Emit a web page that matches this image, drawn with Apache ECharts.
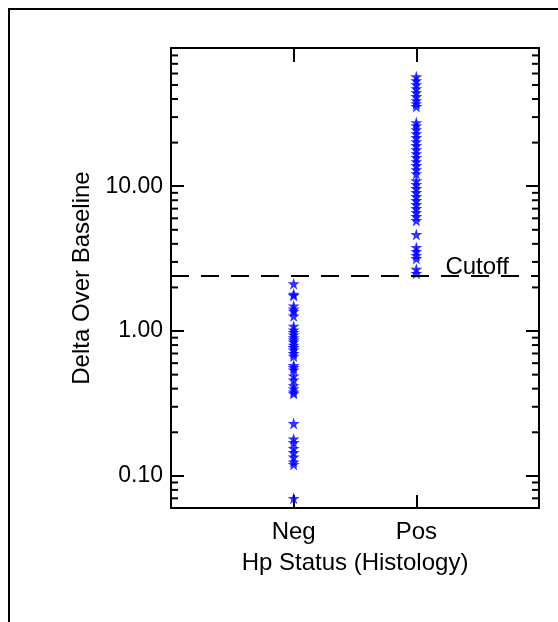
<!DOCTYPE html>
<html>
<head>
<meta charset="utf-8">
<script src="https://cdn.jsdelivr.net/npm/echarts@6/dist/echarts.min.js"></script>
<style>
html,body{margin:0;padding:0;background:#fff;}
#c{width:558px;height:622px;}
</style>
</head>
<body>
<div id="c"></div>
<script>
// ---- data ----
const categories = ['Neg', 'Pos'];
const negValues = [2.12, 1.80, 1.76, 1.49, 1.42, 1.37, 1.27, 1.08, 1.02, 0.98, 0.94, 0.90, 0.87, 0.84,
  0.80, 0.77, 0.74, 0.70, 0.67, 0.58, 0.56, 0.54, 0.49, 0.46, 0.42, 0.40, 0.38, 0.37,
  0.23, 0.18, 0.17, 0.155, 0.145, 0.135, 0.125, 0.12, 0.07];
const posValues = [57, 53.6, 50.3, 47.2, 44.3, 41.6, 39, 37.2, 35.5,
  27.5, 26.2, 24.6, 23.1, 21.7, 20.3, 19.1, 17.9, 16.8, 15.8, 14.8, 13.9, 13.0, 12.2,
  10.9, 10.3, 9.64, 9.05, 8.49, 7.97, 7.48, 7.02, 6.59, 6.18, 5.80,
  4.64, 3.78, 3.55, 3.33, 3.17, 2.67, 2.50];
const cutoffValue = 2.4;
const cutoffLabel = 'Cutoff';
const yMin = 0.06;
const yMax = 90;
const minorTickValues = [0.07, 0.08, 0.09, 0.2, 0.3, 0.4, 0.5, 0.6, 0.7, 0.8, 0.9,
  2, 3, 4, 5, 6, 7, 8, 9, 20, 30, 40, 50, 60, 70, 80];
const xAxisName = 'Hp Status (Histology)';
const yAxisName = 'Delta Over Baseline';

// axis categories padded with empty slots at both ends
const axisCategories = [''].concat(categories, ['']);

const FONT = 'Liberation Sans, Arial, Helvetica, sans-serif';
const lineStyleBlack = { color: '#000', width: 2 };
const starPath = 'path://M0,-1 L0.2245,-0.309 L0.951,-0.309 L0.363,0.118 L0.588,0.809 L0,0.382 L-0.588,0.809 L-0.363,0.118 L-0.951,-0.309 L-0.2245,-0.309 Z';

const chart = echarts.init(document.getElementById('c'), null, { renderer: 'canvas' });

const option = {
  animation: false,
  backgroundColor: '#fff',
  textStyle: { fontFamily: FONT },
  graphic: [{
    type: 'rect', silent: true, z: 0,
    shape: { x: 9, y: 9, width: 700, height: 700 },
    style: { fill: 'none', stroke: '#000', lineWidth: 2 }
  }],
  grid: { left: 171, right: 19, top: 48, bottom: 114, containLabel: false },
  xAxis: [{
    type: 'category', data: axisCategories, boundaryGap: false, position: 'bottom',
    axisLine: { show: true, lineStyle: lineStyleBlack },
    axisTick: { show: true, inside: true, length: 13, interval: 0, lineStyle: lineStyleBlack },
    axisLabel: { show: true, interval: 0, margin: 12, color: '#000', fontSize: 24, fontFamily: FONT },
    splitLine: { show: false },
    name: xAxisName, nameLocation: 'middle', nameGap: 43,
    nameTextStyle: { color: '#000', fontSize: 24, fontFamily: FONT }
  }, {
    type: 'category', data: axisCategories, boundaryGap: false, position: 'top',
    axisLine: { show: true, lineStyle: lineStyleBlack },
    axisTick: { show: true, inside: true, length: 14, interval: 0, lineStyle: lineStyleBlack },
    axisLabel: { show: false },
    splitLine: { show: false }
  }],
  yAxis: [{
    type: 'log', logBase: 10, min: yMin, max: yMax, position: 'left',
    axisLine: { show: true, lineStyle: lineStyleBlack },
    axisTick: { show: true, inside: true, length: 13, lineStyle: lineStyleBlack },
    axisLabel: {
      show: true, margin: 8, color: '#000', fontSize: 23, fontFamily: FONT,
      showMinLabel: false, showMaxLabel: false,
      formatter: v => Number(v).toFixed(2)
    },
    splitLine: { show: false },
    name: yAxisName, nameLocation: 'middle', nameGap: 71,
    nameTextStyle: { color: '#000', fontSize: 24, fontFamily: FONT }
  }, {
    type: 'log', logBase: 10, min: yMin, max: yMax, position: 'right',
    axisLine: { show: true, lineStyle: lineStyleBlack },
    axisTick: { show: true, inside: true, length: 13, lineStyle: lineStyleBlack },
    axisLabel: { show: false },
    splitLine: { show: false }
  }],
  series: [{
    type: 'custom',
    xAxisIndex: 0, yAxisIndex: 0,
    silent: true, z: 3,
    data: minorTickValues.map(v => [0, v]),
    renderItem: function (params, api) {
      const v = api.value(1);
      const l = api.coord([0, v]);
      const r = api.coord([axisCategories.length - 1, v]);
      const st = { stroke: '#000', lineWidth: 2 };
      return {
        type: 'group',
        children: [
          { type: 'line', shape: { x1: l[0], y1: l[1], x2: l[0] + 7, y2: l[1] }, style: st },
          { type: 'line', shape: { x1: r[0] - 7, y1: r[1], x2: r[0], y2: r[1] }, style: st }
        ]
      };
    }
  }, {
    type: 'scatter', name: categories[0],
    xAxisIndex: 0, yAxisIndex: 0,
    symbol: starPath, symbolSize: 12,
    itemStyle: { color: '#0000ff' },
    data: negValues.map(v => [categories[0], v]),
    markLine: {
      silent: true, symbol: ['none', 'none'], animation: false,
      lineStyle: { color: '#000', width: 2, type: [18, 12] },
      label: {
        show: true, formatter: cutoffLabel, position: 'insideEndTop',
        distance: [30, -3], color: '#000', fontSize: 24, fontFamily: FONT
      },
      emphasis: { disabled: true },
      data: [{ yAxis: cutoffValue }]
    }
  }, {
    type: 'scatter', name: categories[1],
    xAxisIndex: 0, yAxisIndex: 0,
    symbol: starPath, symbolSize: 12,
    itemStyle: { color: '#0000ff' },
    data: posValues.map(v => [categories[1], v])
  }]
};

chart.setOption(option);
</script>
</body>
</html>
